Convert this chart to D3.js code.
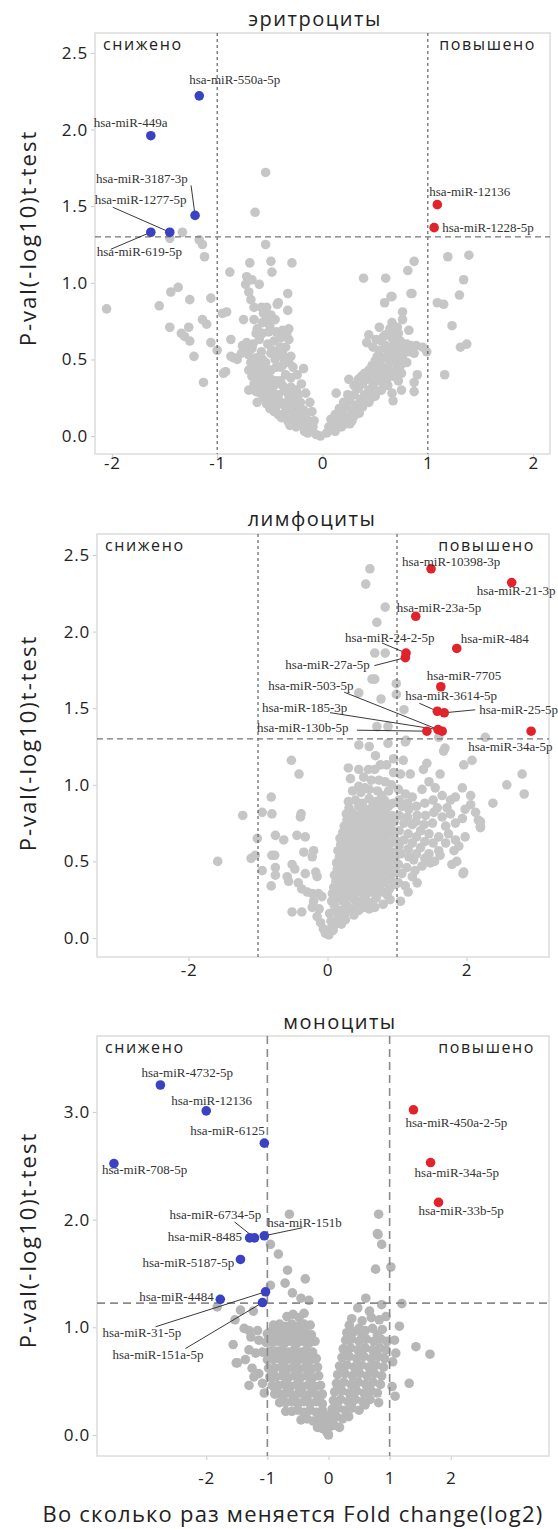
<!DOCTYPE html>
<html>
<head>
<meta charset="utf-8">
<script src="https://cdn.jsdelivr.net/npm/d3@7"></script>
<style>
  body { margin: 0; background: #fff; }
  text { font-family: "Open Sans", "Noto Sans", sans-serif; }
  .lbl { font-family: "Liberation Serif", "Times New Roman", serif; font-size: 13px; fill: #333; }
</style>
</head>
<body>
<svg id="chart"></svg>
<script>
// ---- data ----
const panelTitles = ["эритроциты", "лимфоциты", "моноциты"];
const downText = "снижено", upText = "повышено";
const yTitle = "P-val(-log10)t-test";
const xTitle = "Во сколько раз меняется Fold change(log2)";

const eryXTicks = [-2, -1, 0, 1, 2];
const eryYTicks = [0, 0.5, 1, 1.5, 2, 2.5];
const lymXTicks = [-2, 0, 2];
const lymYTicks = [0, 0.5, 1, 1.5, 2, 2.5];
const monoXTicks = [-2, -1, 0, 1, 2];
const monoYTicks = [0, 1, 2, 3];

const eryCut = [-1, 1], eryThreshold = 1.30;
const lymCut = [-1, 1], lymThreshold = 1.30;
const monoCut = [-1, 1], monoThreshold = 1.225;

// significant miRNAs: [name, log2FC, -log10 p]
const eryDown = [
  ["hsa-miR-550a-5p", -1.17, 2.22], ["hsa-miR-449a", -1.63, 1.96],
  ["hsa-miR-3187-3p", -1.21, 1.44], ["hsa-miR-1277-5p", -1.45, 1.33],
  ["hsa-miR-619-5p", -1.63, 1.33]
];
const eryUp = [["hsa-miR-12136", 1.09, 1.51], ["hsa-miR-1228-5p", 1.06, 1.36]];

const lymDown = [];
const lymUp = [
  ["hsa-miR-10398-3p", 1.49, 2.41], ["hsa-miR-21-3p", 2.65, 2.32],
  ["hsa-miR-23a-5p", 1.27, 2.10], ["hsa-miR-24-2-5p", 1.13, 1.86],
  ["hsa-miR-27a-5p", 1.12, 1.83], ["hsa-miR-484", 1.86, 1.89],
  ["hsa-miR-7705", 1.63, 1.64], ["hsa-miR-3614-5p", 1.58, 1.48],
  ["hsa-miR-25-5p", 1.68, 1.47], ["hsa-miR-503-5p", 1.65, 1.35],
  ["hsa-miR-185-3p", 1.59, 1.36], ["hsa-miR-130b-5p", 1.43, 1.35],
  ["hsa-miR-34a-5p", 2.93, 1.35]
];

const monoDown = [
  ["hsa-miR-4732-5p", -2.75, 3.25], ["hsa-miR-12136", -2.00, 3.01],
  ["hsa-miR-6125", -1.05, 2.71], ["hsa-miR-708-5p", -3.51, 2.52],
  ["hsa-miR-6734-5p", -1.21, 1.83], ["hsa-miR-8485", -1.29, 1.83],
  ["hsa-miR-151b", -1.05, 1.85], ["hsa-miR-5187-5p", -1.44, 1.63],
  ["hsa-miR-4484", -1.77, 1.26], ["hsa-miR-31-5p", -1.03, 1.33],
  ["hsa-miR-151a-5p", -1.08, 1.23]
];
const monoUp = [
  ["hsa-miR-450a-2-5p", 1.39, 3.02], ["hsa-miR-34a-5p", 1.67, 2.53],
  ["hsa-miR-33b-5p", 1.80, 2.16]
];

// non-significant miRNAs: [log2FC, -log10 p]
const eryGrey = [
  [-0.54,1.72],[-0.64,1.46],[-1.33,1.33],[-1.45,1.29],[-1.17,1.28],[-1.14,1.25],[-1.12,1.17],[-0.54,1.25],
  [1.19,1.17],[1.39,1.18],[-0.69,1.13],[-0.49,1.14],[-0.29,1.13],[0.87,1.14],[0.81,1.08],[-0.88,1.07],
  [-0.48,1.07],[-0.72,1.04],[-0.67,1.02],[-0.73,0.99],[-0.60,0.99],[-0.70,0.94],[0.39,1.03],[0.60,1.03],
  [1.34,1.02],[-1.44,0.94],[-1.37,0.97],[-0.33,0.93],[0.65,0.91],[0.84,0.93],[1.30,0.92],[-2.05,0.83],
  [-1.55,0.85],[-1.26,0.89],[-1.06,0.90],[-1.45,0.71],[-1.34,0.67],[-1.27,0.71],[-1.31,0.65],[-1.26,0.62],
  [-1.22,0.52],[-1.14,0.76],[-1.10,0.73],[-1.06,0.61],[-1.00,0.56],[-1.13,0.35],[-0.95,0.80],[-0.91,0.81],
  [-0.87,0.63],[-0.94,0.41],[-0.92,0.42],[-0.87,0.52],[-0.81,0.50],
  [-0.68,0.89],[-0.75,0.76],[-0.65,0.84],[-0.58,0.84],[-0.53,0.84],[-0.56,0.80],[-0.49,0.79],[-0.53,0.76],
  [-0.65,0.76],[-0.57,0.74],[-0.63,0.67],[-0.57,0.67],[-0.51,0.68],[-0.42,0.87],[-0.43,0.86],[-0.33,0.82],
  [-0.44,0.68],[-0.38,0.69],[-0.32,0.70],[-0.76,0.59],[-0.72,0.61],[-0.67,0.57],[-0.73,0.55],[-0.70,0.53],
  [-0.77,0.54],[-0.84,0.51],[-0.63,0.51],[-0.57,0.50],[-0.49,0.54],[-0.44,0.55],[-0.38,0.54],[-0.35,0.58],
  [-0.32,0.63],[-0.70,0.43],[-0.65,0.42],[-0.60,0.43],[-0.54,0.44],[-0.49,0.43],[-0.44,0.45],[-0.38,0.46],
  [-0.32,0.48],[-0.63,0.29],[-0.62,0.22],[-0.67,0.39],[-0.60,0.37],[-0.56,0.39],[-0.18,0.44],
  [-0.58,0.32],[-0.52,0.30],[-0.46,0.33],[-0.40,0.36],[-0.35,0.40],[-0.30,0.38],[-0.55,0.25],[-0.48,0.24],
  [-0.42,0.27],[-0.36,0.30],[-0.30,0.32],[-0.25,0.30],[-0.50,0.18],[-0.44,0.19],[-0.38,0.21],[-0.32,0.24],
  [-0.26,0.24],[-0.21,0.22],[-0.42,0.14],[-0.36,0.15],[-0.30,0.17],[-0.24,0.18],[-0.18,0.17],[-0.33,0.10],
  [-0.27,0.11],[-0.21,0.12],[-0.15,0.11],[-0.25,0.06],[-0.19,0.07],[-0.13,0.06],[-0.17,0.03],[-0.10,0.03],
  [-0.06,0.01],[-0.02,0.00],[-0.40,0.45],[-0.36,0.50],[-0.45,0.50],[-0.54,0.48],[-0.58,0.55],[-0.52,0.60],
  [-0.46,0.62],[-0.40,0.58],[-0.60,0.63],[-0.68,0.48],[-0.62,0.40],[-0.70,0.30],[-0.28,0.45],[-0.24,0.40],
  [-0.20,0.34],[-0.16,0.28],[-0.12,0.22],[-0.10,0.16],[-0.08,0.10],[-0.30,0.52],
  [-0.62,0.46],[-0.56,0.42],[-0.50,0.38],[-0.44,0.36],[-0.38,0.33],[-0.33,0.28],[-0.28,0.27],[-0.23,0.27],
  [-0.47,0.28],[-0.41,0.23],[-0.35,0.19],[-0.29,0.20],[-0.23,0.15],[-0.17,0.13],[-0.12,0.09],[-0.09,0.06],
  [-0.14,0.02],[-0.22,0.09],[-0.28,0.14],[-0.53,0.35],[-0.65,0.34],[-0.59,0.28],[-0.53,0.21],[-0.46,0.16],
  [-0.39,0.12],[-0.31,0.07],[-0.66,0.60],[-0.62,0.70],[-0.50,0.72],[-0.45,0.76],[-0.40,0.64],[-0.34,0.66],
  [-0.48,0.56],[-0.42,0.53],
  [0.44,0.66],[0.54,0.71],[0.58,0.65],[0.66,0.74],[0.71,0.71],[0.68,0.67],[0.82,0.69],[0.84,0.59],
  [0.89,0.59],[0.87,0.54],[0.42,0.61],[0.51,0.63],[0.47,0.46],[0.57,0.45],[0.63,0.43],[0.71,0.45],
  [0.60,0.37],[0.68,0.39],[0.75,0.41],[0.66,0.53],[0.71,0.55],[0.77,0.56],
  [0.04,0.02],[0.08,0.04],[0.12,0.06],[0.10,0.09],[0.16,0.08],[0.14,0.12],[0.20,0.10],[0.18,0.15],
  [0.24,0.13],[0.22,0.19],[0.28,0.17],[0.26,0.23],[0.32,0.20],[0.30,0.27],[0.36,0.24],[0.34,0.31],
  [0.40,0.27],[0.38,0.34],[0.44,0.30],[0.42,0.37],[0.48,0.33],[0.46,0.40],[0.52,0.36],[0.50,0.43],
  [0.56,0.39],[0.54,0.47],[0.60,0.41],[0.58,0.51],[0.64,0.48],[0.62,0.56],[0.70,0.50],[0.68,0.60],
  [0.74,0.62],[0.78,0.48],[0.82,0.55],[0.44,0.22],[0.50,0.26],[0.56,0.30],[0.62,0.33],[0.66,0.28],
  [0.72,0.36],[0.35,0.15],[0.28,0.10],[0.52,0.52],[0.48,0.58],[0.56,0.62],[0.60,0.66],[0.64,0.70],
  [0.72,0.67],[0.66,0.64],
  [0.06,0.06],[0.12,0.03],[0.18,0.06],[0.22,0.08],[0.26,0.08],[0.30,0.13],[0.32,0.16],[0.38,0.19],
  [0.40,0.22],[0.46,0.25],[0.52,0.29],[0.58,0.34],[0.62,0.38],[0.66,0.41],[0.70,0.43],[0.74,0.46],
  [0.76,0.52],[0.80,0.60],[0.60,0.59],[0.54,0.56],[0.50,0.49],[0.44,0.43],[0.40,0.41],[0.34,0.37],
  [0.30,0.33],[0.24,0.27],[0.20,0.22],[0.16,0.18],[0.12,0.14],[0.08,0.11],[0.48,0.38],[0.54,0.42],
  [0.64,0.53],[0.68,0.56],[0.72,0.58],
  [0.13,0.28],[0.25,0.37],[0.37,0.39],[0.59,0.87],[0.66,0.91],[0.85,0.93],[1.09,0.87],[1.15,0.86],
  [1.23,0.72],[1.31,0.58],[1.37,0.60],[1.16,0.40],[0.90,0.40],[0.87,0.35],[0.87,0.29],[0.75,0.30],
  [0.67,0.23],[0.95,0.58],[0.99,0.55],[0.80,0.48],[0.76,0.76],[0.76,0.81]
];

const lymGrey = [
  [0.61,2.41],[0.55,2.31],[0.83,2.16],[0.71,2.06],[0.68,1.86],[0.83,1.86],[0.64,1.69],[0.68,1.69],
  [0.99,1.66],[0.45,1.60],[0.77,1.56],[0.99,1.59],[1.10,1.49],[0.71,1.38],[0.87,1.38],[1.60,1.31],
  [1.13,1.29],[2.27,1.31],[0.45,1.26],[0.60,1.25],[0.87,1.27],[1.69,1.24],
  [0.69,1.19],[1.12,1.28],[1.09,1.16],[-0.52,1.16],[-0.41,1.07],[0.30,1.11],[0.45,1.10],[0.59,1.10],
  [0.68,1.10],[0.76,1.13],[0.85,1.13],[0.95,1.17],[0.33,1.04],[0.45,0.99],[0.54,0.98],[0.74,1.03],
  [0.83,1.02],[0.78,0.93],[0.88,0.96],[1.05,1.07],[1.19,1.07],[1.38,1.10],[1.43,1.14],[1.62,1.07],
  [1.67,1.22],[1.96,1.13],[2.08,1.16],[2.58,1.00],[2.38,0.88],[2.80,1.07],[2.83,0.94],[2.20,0.76],
  [2.20,0.72],[1.95,0.42],
  [-0.81,0.92],[-1.22,0.80],[-0.94,0.82],[-0.80,0.81],[-0.38,0.81],[-0.39,0.79],[-1.01,0.65],[-0.75,0.67],
  [-0.63,0.64],[-0.44,0.67],[-0.32,0.66],[-1.58,0.50],[-1.10,0.52],[-1.04,0.54],[-0.80,0.54],[-0.76,0.54],
  [-0.34,0.56],[-0.20,0.57],[-0.22,0.53],[-0.94,0.44],[-0.75,0.46],[-0.75,0.41],[-0.51,0.48],[-0.47,0.45],
  [-0.58,0.40],[-0.56,0.37],[-0.81,0.34],[-0.32,0.42],[-0.17,0.43],[-0.15,0.40],[-0.42,0.36],[-0.37,0.32],
  [-0.29,0.30],[-0.22,0.29],[-0.13,0.29],[-0.08,0.27],[-0.51,0.17],[-0.37,0.17],[-0.22,0.20],[-0.03,0.03],
  [0.06,0.07],[-0.15,0.14],[-0.10,0.10],[-0.06,0.06],[-0.20,0.24],[-0.12,0.19],
  [1.02,0.97],[1.12,0.94],[1.22,0.92],[1.36,0.97],[1.46,1.02],[1.55,0.98],[1.65,0.93],[1.77,0.90],
  [1.84,0.92],[1.94,0.98],[2.06,0.93],[2.06,0.87],[1.98,0.84],[2.13,0.82],[2.17,0.77],[2.20,0.73],
  [1.07,0.86],[1.17,0.84],[1.29,0.80],[1.41,0.80],[1.53,0.82],[1.65,0.79],[1.77,0.81],[1.84,0.75],
  [1.94,0.78],[1.98,0.66],[1.10,0.75],[1.22,0.74],[1.34,0.70],[1.46,0.68],[1.60,0.66],[1.74,0.68],
  [1.84,0.64],[1.89,0.60],[1.82,0.57],[1.10,0.64],[1.22,0.62],[1.34,0.59],[1.46,0.55],[1.60,0.57],
  [1.62,0.54],[1.05,0.55],[1.17,0.53],[1.24,0.51],[1.36,0.47],[1.48,0.49],[1.79,0.48],[1.86,0.50],
  [1.96,0.43],[1.07,0.42],[1.22,0.40],[1.29,0.36],[1.12,0.34],[1.05,0.24],
  [1.03,0.90],[1.15,0.88],[1.28,0.86],[1.40,0.88],[1.52,0.90],[1.03,0.80],[1.15,0.79],[1.27,0.76],
  [1.39,0.74],[1.51,0.75],[1.03,0.70],[1.16,0.68],[1.28,0.66],[1.40,0.63],[1.52,0.62],[1.03,0.60],
  [1.16,0.58],[1.28,0.55],[1.40,0.52],[1.54,0.50],[1.02,0.48],[1.14,0.46],[1.26,0.44],[1.02,0.36],
  [1.16,0.30],[1.70,0.62],[1.70,0.73],[1.58,0.85],[1.72,0.85],
  [0.36,0.96],[0.48,0.95],[0.60,0.97],[0.72,0.96],[0.92,1.00],[0.52,1.05],[0.63,1.03],[0.95,1.08],
  [0.02,0.02],[0.08,0.05],[0.12,0.09],[0.05,0.11],[0.16,0.13],[0.20,0.09],[0.26,0.12],
  [0.03,0.16],[0.10,0.17],[0.18,0.18],[0.25,0.16],[0.32,0.19],[0.38,0.15],[0.45,0.18],[0.52,0.20],[0.60,0.19],
  [0.10,0.21],[0.28,0.21],[0.42,0.21],[0.56,0.22],[0.68,0.20],
  [0.06,0.24],[0.14,0.26],[0.22,0.24],[0.30,0.27],[0.38,0.25],[0.46,0.24],[0.54,0.27],[0.62,0.23],
  [0.70,0.26],[0.80,0.22],[0.90,0.25],
  [0.07,0.29],[0.15,0.30],[0.23,0.28],[0.31,0.30],[0.39,0.29],[0.47,0.30],[0.55,0.28],[0.63,0.30],
  [0.71,0.29],[0.79,0.30],[0.86,0.28],
  [0.09,0.33],[0.17,0.34],[0.25,0.32],[0.33,0.35],[0.41,0.33],[0.49,0.34],[0.57,0.32],[0.65,0.35],
  [0.73,0.33],[0.81,0.36],[0.89,0.32],[0.97,0.35],
  [0.12,0.37],[0.20,0.38],[0.28,0.36],[0.36,0.38],[0.44,0.37],[0.52,0.38],[0.60,0.36],[0.68,0.38],
  [0.76,0.37],[0.84,0.38],[0.93,0.37],
  [0.10,0.41],[0.18,0.42],[0.26,0.40],[0.34,0.43],[0.42,0.41],[0.50,0.42],[0.58,0.40],[0.66,0.43],
  [0.74,0.41],[0.82,0.44],[0.90,0.40],[0.98,0.43],
  [0.14,0.45],[0.22,0.46],[0.30,0.44],[0.38,0.46],[0.46,0.45],[0.54,0.46],[0.62,0.44],[0.70,0.46],
  [0.78,0.45],[0.86,0.46],[0.95,0.45],
  [0.13,0.49],[0.21,0.50],[0.29,0.48],[0.37,0.51],[0.45,0.49],[0.53,0.50],[0.61,0.48],[0.69,0.51],
  [0.77,0.49],[0.85,0.52],[0.93,0.48],
  [0.17,0.53],[0.25,0.54],[0.33,0.52],[0.41,0.54],[0.49,0.53],[0.57,0.54],[0.65,0.52],[0.73,0.54],
  [0.81,0.53],[0.89,0.54],[0.97,0.52],
  [0.15,0.57],[0.23,0.58],[0.31,0.56],[0.39,0.59],[0.47,0.57],[0.55,0.58],[0.63,0.56],[0.71,0.59],
  [0.79,0.57],[0.87,0.60],[0.95,0.56],
  [0.19,0.61],[0.27,0.62],[0.35,0.60],[0.43,0.62],[0.51,0.61],[0.59,0.62],[0.67,0.60],[0.75,0.62],
  [0.83,0.61],[0.91,0.62],
  [0.18,0.65],[0.26,0.66],[0.34,0.64],[0.42,0.67],[0.50,0.65],[0.58,0.66],[0.66,0.64],[0.74,0.67],
  [0.82,0.65],[0.90,0.68],[0.98,0.64],
  [0.22,0.69],[0.30,0.70],[0.38,0.68],[0.46,0.70],[0.54,0.69],[0.62,0.70],[0.70,0.68],[0.78,0.70],
  [0.86,0.69],[0.94,0.70],
  [0.24,0.73],[0.32,0.74],[0.40,0.72],[0.48,0.75],[0.56,0.73],[0.64,0.74],[0.72,0.72],[0.80,0.75],
  [0.88,0.73],[0.96,0.76],
  [0.28,0.77],[0.36,0.78],[0.44,0.76],[0.52,0.78],[0.60,0.77],[0.68,0.78],[0.76,0.76],[0.84,0.78],[0.92,0.77],
  [0.27,0.81],[0.35,0.82],[0.43,0.80],[0.51,0.83],[0.59,0.81],[0.67,0.82],[0.75,0.80],[0.83,0.83],[0.93,0.80],
  [0.31,0.85],[0.45,0.86],[0.55,0.84],[0.65,0.86],[0.78,0.85],[0.88,0.86],
  [0.30,0.89],[0.40,0.90],[0.50,0.88],[0.60,0.91],[0.70,0.89],[0.82,0.90],[0.94,0.88]
];

const monoGrey = [
  [-0.64,2.05],[0.82,2.05],[0.80,1.87],[-0.95,1.77],[-0.82,1.68],[-0.67,1.53],[-0.38,1.45],[-0.71,1.41],
  [-0.95,1.39],[-0.59,1.32],[-0.45,1.27],[-0.32,1.25],[0.81,1.86],[0.87,1.77],[0.77,1.54],[1.02,1.56],
  [0.61,1.27],[0.87,1.21],[1.20,1.22],[0.48,1.18],[0.67,1.15],[0.70,1.09],[0.83,1.07],[0.94,1.10],
  [1.16,1.01],[0.34,1.02],[0.50,0.99],[1.08,0.88],[1.43,0.82],[1.66,0.75],[1.10,0.76],[1.05,0.68],
  [1.32,0.48],[1.04,0.45],[1.09,0.36],[0.82,0.30],[-1.82,1.19],[-1.44,1.16],[-1.23,1.15],[-1.53,1.07],
  [-1.38,0.99],[-1.30,0.97],[-1.16,0.97],[-1.27,0.91],[-1.14,0.88],[-1.56,0.84],[-1.30,0.79],[-1.19,0.76],
  [-1.08,0.77],[-1.51,0.67],[-1.36,0.70],[-1.25,0.62],[-1.14,0.57],[-1.22,0.54],[-1.08,0.48],[-1.05,0.39],
  [-0.92,0.97],[-1.49,0.67],[-1.30,0.46],
  [-0.68,1.10],[-0.58,1.12],[-0.48,1.09],[-0.40,1.13],
  [-0.90,1.02],[-0.80,1.03],[-0.70,1.01],[-0.60,1.03],[-0.50,1.01],[-0.40,1.03],[-0.30,1.02],
  [-1.00,0.94],[-0.88,0.94],[-0.78,0.95],[-0.68,0.93],[-0.58,0.95],[-0.48,0.93],[-0.38,0.95],[-0.28,0.93],
  [-1.02,0.86],[-0.92,0.86],[-0.82,0.87],[-0.72,0.85],[-0.62,0.87],[-0.52,0.85],[-0.42,0.87],[-0.32,0.85],[-0.22,0.87],
  [-0.96,0.78],[-0.86,0.78],[-0.76,0.79],[-0.66,0.77],[-0.56,0.79],[-0.46,0.77],[-0.36,0.79],[-0.26,0.77],
  [-1.00,0.70],[-0.90,0.70],[-0.80,0.71],[-0.70,0.69],[-0.60,0.71],[-0.50,0.69],[-0.40,0.71],[-0.30,0.69],[-0.20,0.71],
  [-0.98,0.62],[-0.88,0.62],[-0.78,0.63],[-0.68,0.61],[-0.58,0.63],[-0.48,0.61],[-0.38,0.63],[-0.28,0.61],[-0.18,0.63],
  [-0.96,0.54],[-0.86,0.54],[-0.76,0.55],[-0.66,0.53],[-0.56,0.55],[-0.46,0.53],[-0.36,0.55],[-0.26,0.53],[-0.16,0.55],
  [-0.92,0.46],[-0.82,0.46],[-0.72,0.47],[-0.62,0.45],[-0.52,0.47],[-0.42,0.45],[-0.32,0.47],[-0.22,0.45],[-0.13,0.46],
  [-0.88,0.38],[-0.78,0.38],[-0.68,0.39],[-0.58,0.37],[-0.48,0.39],[-0.38,0.37],[-0.28,0.39],[-0.18,0.37],[-0.10,0.38],
  [-0.80,0.30],[-0.70,0.30],[-0.60,0.31],[-0.50,0.29],[-0.40,0.31],[-0.30,0.29],[-0.20,0.31],[-0.10,0.29],
  [-0.70,0.22],[-0.60,0.22],[-0.50,0.23],[-0.40,0.21],[-0.30,0.23],[-0.20,0.21],[-0.10,0.23],[-0.04,0.18],
  [-0.45,0.14],[-0.35,0.15],[-0.25,0.13],[-0.15,0.15],[-0.07,0.12],
  [-0.18,0.07],[-0.10,0.06],[-0.03,0.03],[0.00,0.00],
  [0.38,1.08],[0.55,1.06],
  [0.30,0.95],[0.42,0.96],[0.60,0.97],[0.72,0.99],[0.88,0.98],
  [0.28,0.88],[0.38,0.89],[0.50,0.87],[0.62,0.89],[0.74,0.87],[0.86,0.89],[0.96,0.87],
  [0.24,0.80],[0.36,0.81],[0.48,0.79],[0.60,0.81],[0.72,0.79],[0.84,0.81],[0.94,0.79],
  [0.22,0.72],[0.34,0.73],[0.46,0.71],[0.58,0.73],[0.70,0.71],[0.82,0.73],[0.92,0.71],
  [0.18,0.64],[0.30,0.65],[0.42,0.63],[0.54,0.65],[0.66,0.63],[0.78,0.65],[0.90,0.63],
  [0.15,0.56],[0.27,0.57],[0.39,0.55],[0.51,0.57],[0.63,0.55],[0.75,0.57],[0.87,0.55],
  [0.13,0.48],[0.25,0.49],[0.37,0.47],[0.49,0.49],[0.61,0.47],[0.73,0.49],[0.85,0.47],
  [0.10,0.40],[0.22,0.41],[0.34,0.39],[0.46,0.41],[0.58,0.39],[0.70,0.41],[0.80,0.39],
  [0.08,0.32],[0.20,0.33],[0.32,0.31],[0.44,0.33],[0.56,0.31],[0.68,0.33],
  [0.06,0.24],[0.16,0.25],[0.27,0.23],[0.38,0.25],[0.50,0.23],
  [0.04,0.16],[0.13,0.17],[0.23,0.15],[0.33,0.17],
  [0.03,0.08],[0.10,0.09],[0.18,0.07],
  [-0.85,0.99],[-0.65,0.97],[-0.45,0.98],[-0.93,0.90],[-0.77,0.91],[-0.57,0.90],[-0.37,0.91],
  [-0.91,0.74],[-0.71,0.75],[-0.51,0.73],[-0.31,0.74],[-0.93,0.58],[-0.73,0.59],[-0.53,0.58],[-0.33,0.59],
  [-0.87,0.42],[-0.67,0.43],[-0.47,0.42],[-0.27,0.43],[-0.75,0.34],[-0.55,0.34],[-0.35,0.33],[-0.15,0.34],
  [0.33,0.92],[0.55,0.92],[0.80,0.93],[0.30,0.76],[0.54,0.77],[0.78,0.76],[0.24,0.60],[0.48,0.60],[0.72,0.60],
  [0.19,0.44],[0.43,0.44],[0.66,0.44],[0.14,0.28],[0.38,0.29],[0.60,0.28]
];

// ---- label placement (pixel offsets from the point: text dx, dy, leader dx, dy) ----
const eryLabelPos = {
  "hsa-miR-550a-5p": [-10, -12], "hsa-miR-449a": [-57, -9],
  "hsa-miR-3187-3p": [-99, -32, -4, -30], "hsa-miR-1277-5p": [-75, -28, -57, -25],
  "hsa-miR-619-5p": [-54, 24, -40, 17], "hsa-miR-12136": [-8, -9], "hsa-miR-1228-5p": [8, 4]
};
const lymLabelPos = {
  "hsa-miR-10398-3p": [-29, -3], "hsa-miR-21-3p": [-35, 12], "hsa-miR-23a-5p": [-19, -4],
  "hsa-miR-24-2-5p": [-61, -11, -24, -10], "hsa-miR-27a-5p": [-120, 11, -31, 8],
  "hsa-miR-484": [4, -5], "hsa-miR-7705": [-14, -7], "hsa-miR-3614-5p": [-32, -11, -18, -8],
  "hsa-miR-25-5p": [35, 1, 31, -3], "hsa-miR-503-5p": [-174, -41, -98, -39],
  "hsa-miR-185-3p": [-176, -18, -108, -17], "hsa-miR-130b-5p": [-170, 1, -70, -1],
  "hsa-miR-34a-5p": [-63, 20]
};
const monoLabelPos = {
  "hsa-miR-4732-5p": [-19, -8], "hsa-miR-12136": [-35, -6], "hsa-miR-6125": [-74, -8],
  "hsa-miR-708-5p": [-12, 10], "hsa-miR-6734-5p": [-85, -19, -20, -16], "hsa-miR-8485": [-82, 3],
  "hsa-miR-151b": [3, -9, 38, -8], "hsa-miR-5187-5p": [-98, 8], "hsa-miR-4484": [-81, 2],
  "hsa-miR-31-5p": [-163, 45, -110, 35], "hsa-miR-151a-5p": [-150, 56, -77, 46],
  "hsa-miR-450a-2-5p": [-8, 17], "hsa-miR-34a-5p": [-16, 14], "hsa-miR-33b-5p": [-20, 13]
};

// ---- layout ----
const W = 558, H = 1529;
const blue = "#3a42c2", red = "#e1232b";

const panels = [
  { title: panelTitles[0], tx: 315, ty: 26, x0: 95, x1: 550, y0: 33, y1: 454,
    xd: [-2.16, 2.16], yd: [-0.117, 2.63], xt: eryXTicks, yt: eryYTicks, xtOff: 3,
    cut: eryCut, thr: eryThreshold, grey: eryGrey, down: eryDown, up: eryUp, pos: eryLabelPos,
    greyCol: "#c6c6c6", dash: "3,3", hdash: "6,4", lineCol: "#555", hCol: "#777", lineW: 1.1, ytc: 238 },
  { title: panelTitles[1], tx: 312, ty: 526, x0: 97, x1: 549, y0: 534, y1: 957,
    xd: [-3.317, 3.187], yd: [-0.124, 2.637], xt: lymXTicks, yt: lymYTicks, xtOff: 7,
    cut: lymCut, thr: lymThreshold, grey: lymGrey, down: lymDown, up: lymUp, pos: lymLabelPos,
    greyCol: "#c6c6c6", dash: "3,3", hdash: "6,4", lineCol: "#555", hCol: "#777", lineW: 1.1, ytc: 743 },
  { title: panelTitles[2], tx: 340, ty: 1029, x0: 97, x1: 549, y0: 1036, y1: 1456,
    xd: [-3.787, 3.607], yd: [-0.195, 3.705], xt: monoXTicks, yt: monoYTicks, xtOff: 16,
    cut: monoCut, thr: monoThreshold, grey: monoGrey, down: monoDown, up: monoUp, pos: monoLabelPos,
    greyCol: "#b6b6b6", dash: "8,5", hdash: "8,5", lineCol: "#8a8a8a", hCol: "#8a8a8a", lineW: 1.6, ytc: 1240 }
];

const svg = d3.select("#chart").attr("width", W).attr("height", H);
svg.append("rect").attr("width", W).attr("height", H).attr("fill", "#fff");

panels.forEach(p => {
  const x = d3.scaleLinear().domain(p.xd).range([p.x0, p.x1]);
  const y = d3.scaleLinear().domain(p.yd).range([p.y1, p.y0]);
  const g = svg.append("g");

  g.append("text").attr("x", p.tx).attr("y", p.ty).attr("text-anchor", "middle")
    .attr("font-size", 20).attr("letter-spacing", 1.5).attr("fill", "#222").text(p.title);

  // axes
  const ya = g.append("g").attr("transform", `translate(${p.x0},0)`)
    .call(d3.axisLeft(y).tickValues(p.yt).tickFormat(d3.format(".1f")).tickSize(4).tickPadding(3));
  const xa = g.append("g").attr("transform", `translate(0,${p.y1})`)
    .call(d3.axisBottom(x).tickValues(p.xt).tickFormat(d => String(d)).tickSize(4).tickPadding(p.xtOff - 4));
  [ya, xa].forEach(a => {
    a.select(".domain").remove();
    a.selectAll("line").attr("stroke", "#c8c8c8");
    a.selectAll("text").attr("font-size", 17).attr("letter-spacing", 0.8).attr("fill", "#222")
      .style("font-family", "'Open Sans', sans-serif");
  });

  g.append("rect").attr("x", p.x0).attr("y", p.y0)
    .attr("width", p.x1 - p.x0).attr("height", p.y1 - p.y0)
    .attr("fill", "none").attr("stroke", "#dcdcdc").attr("stroke-width", 1.5);

  g.append("text").attr("x", p.x0 + 8).attr("y", p.y0 + 17)
    .attr("font-size", 16).attr("letter-spacing", 1.6).attr("fill", "#222").text(downText);
  g.append("text").attr("x", p.x1 - 14).attr("y", p.y0 + 17).attr("text-anchor", "end")
    .attr("font-size", 16).attr("letter-spacing", 1.6).attr("fill", "#222").text(upText);

  g.append("g").selectAll("circle").data(p.grey).join("circle")
    .attr("cx", d => x(d[0])).attr("cy", d => y(d[1])).attr("r", 4.8)
    .attr("fill", p.greyCol);

  // cut-off lines
  g.selectAll(".vcut").data(p.cut).join("line")
    .attr("x1", d => x(d)).attr("x2", d => x(d)).attr("y1", p.y0).attr("y2", p.y1)
    .attr("stroke", p.lineCol).attr("stroke-width", p.lineW).attr("stroke-dasharray", p.dash);
  g.append("line").attr("x1", p.x0).attr("x2", p.x1).attr("y1", y(p.thr)).attr("y2", y(p.thr))
    .attr("stroke", p.hCol).attr("stroke-width", p.lineW).attr("stroke-dasharray", p.hdash);

  const sig = p.down.map(d => ({ n: d[0], fc: d[1], pv: d[2], c: blue }))
    .concat(p.up.map(d => ({ n: d[0], fc: d[1], pv: d[2], c: red })));

  g.append("g").selectAll("line").data(sig.filter(d => p.pos[d.n].length > 2)).join("line")
    .attr("x1", d => x(d.fc) + p.pos[d.n][2]).attr("y1", d => y(d.pv) + p.pos[d.n][3])
    .attr("x2", d => x(d.fc)).attr("y2", d => y(d.pv))
    .attr("stroke", "#222").attr("stroke-width", 0.9);

  g.append("g").selectAll("circle").data(sig).join("circle")
    .attr("cx", d => x(d.fc)).attr("cy", d => y(d.pv)).attr("r", 4.8).attr("fill", d => d.c);

  g.append("g").selectAll("text").data(sig).join("text").attr("class", "lbl")
    .attr("x", d => x(d.fc) + p.pos[d.n][0]).attr("y", d => y(d.pv) + p.pos[d.n][1])
    .text(d => d.n);

  g.append("text").attr("transform", `translate(36,${p.ytc}) rotate(-90)`)
    .attr("text-anchor", "middle").attr("font-size", 22).attr("letter-spacing", 2)
    .attr("fill", "#222").text(yTitle);
});

svg.append("text").attr("x", 293).attr("y", 1522).attr("text-anchor", "middle")
  .attr("font-size", 22).attr("letter-spacing", 1.2).attr("fill", "#222").text(xTitle);
</script>
</body>
</html>
